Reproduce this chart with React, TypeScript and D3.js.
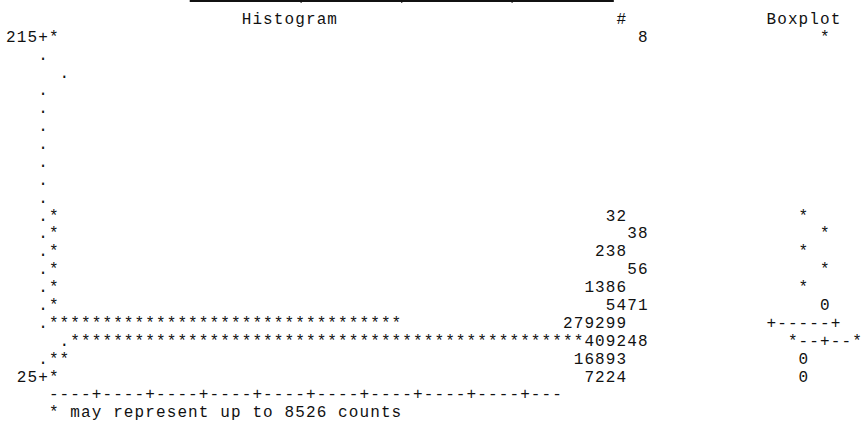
import React from 'react'
import * as d3 from 'd3'

// bin midpoints, top to bottom
const midpoints = [215, 205, 195, 185, 175, 165, 155, 145, 135, 125, 115, 105, 95, 85, 75, 65, 55, 45, 35, 25]
const labelled = [215, 25]
const counts = [8, 0, 0, 0, 0, 0, 0, 0, 0, 0, 32, 38, 238, 56, 1386, 5471, 279299, 409248, 16893, 7224]
const boxMarks = ['*', '', '', '', '', '', '', '', '', '', '*', '*', '*', '*', '*', '0', '+-----+', '*--+--*', '0', '0']
// the listing drifts two columns on some lines
const barShift = [0, 0, 2, 0, 0, 0, 0, 0, 0, 0, 0, 0, 0, 0, 0, 0, 0, 2, 0, 0]
const sideShift = [2, 0, 2, 0, 0, 0, 0, 0, 0, 0, 0, 2, 0, 2, 0, 2, 0, 2, 0, 0]
const starUnit = 8526
const axisLength = 48
const tickStep = 5
const borderCols = [17.2, 56.8]
const borderTicks = [27.6, 37, 47.3]

const W = 863
const H = 421
const COL = 10.71

const xCol = d3.scaleLinear().domain([0, 80]).range([5.5, 5.5 + 80 * COL])
const yRow = d3.scaleLinear().domain([0, midpoints.length - 1]).range([41.8, 381.5])

const FONT = '"Liberation Mono", "DejaVu Sans Mono", monospace'

function chars(str: string, col: number, row: number, key: string) {
    const out: React.ReactNode[] = []
    str.split('').forEach((c, i) => {
        if (c === ' ') return
        out.push(
            <text key={`${key}-${i}`} x={xCol(col + i + 0.5)} y={yRow(row)} textAnchor="middle">{c}</text>
        )
    })
    return out
}

export default function App() {
    const axis = d3.range(axisLength).map(i => ((i + 1) % tickStep === 0 ? '+' : '-')).join('')

    return (
        <svg width={W} height={H} style={{ position: 'absolute', left: 0, top: 0, background: '#fff' }}
            fontFamily={FONT} fontSize={16} fill="#111">
            <line x1={xCol(borderCols[0])} x2={xCol(borderCols[1])} y1={1} y2={1} stroke="#111" strokeWidth={2} />
            {borderTicks.map(t => (
                <line key={t} x1={xCol(t)} x2={xCol(t)} y1={0} y2={3} stroke="#111" strokeWidth={1} />
            ))}

            {chars('Histogram', 22, -1, 'h1')}
            {chars('#', 57, -1, 'h2')}
            {chars('Boxplot', 71, -1, 'h3')}

            {midpoints.map((m, r) => {
                const nodes: React.ReactNode[] = []
                const bs = barShift[r]
                const ss = sideShift[r]
                if (labelled.includes(m)) {
                    const lab = String(m)
                    nodes.push(...chars(lab + '+', 3 - lab.length, r, `l${r}`))
                } else {
                    nodes.push(...chars('.', 3 + bs, r, `d${r}`))
                }
                const c = counts[r]
                const nStars = c > 0 ? Math.ceil(c / starUnit) : 0
                if (nStars) nodes.push(...chars('*'.repeat(nStars), 4 + bs, r, `s${r}`))
                if (c > 0) {
                    const txt = String(c)
                    nodes.push(...chars(txt, 58 + ss - txt.length, r, `c${r}`))
                }
                const b = boxMarks[r]
                if (b) nodes.push(...chars(b, (b.length > 1 ? 71 : 74) + ss, r, `b${r}`))
                return <g key={m}>{nodes}</g>
            })}

            {chars(axis, 4, midpoints.length, 'ax')}
            {chars(`* may represent up to ${starUnit} counts`, 4, midpoints.length + 1, 'fn')}
        </svg>
    )
}
